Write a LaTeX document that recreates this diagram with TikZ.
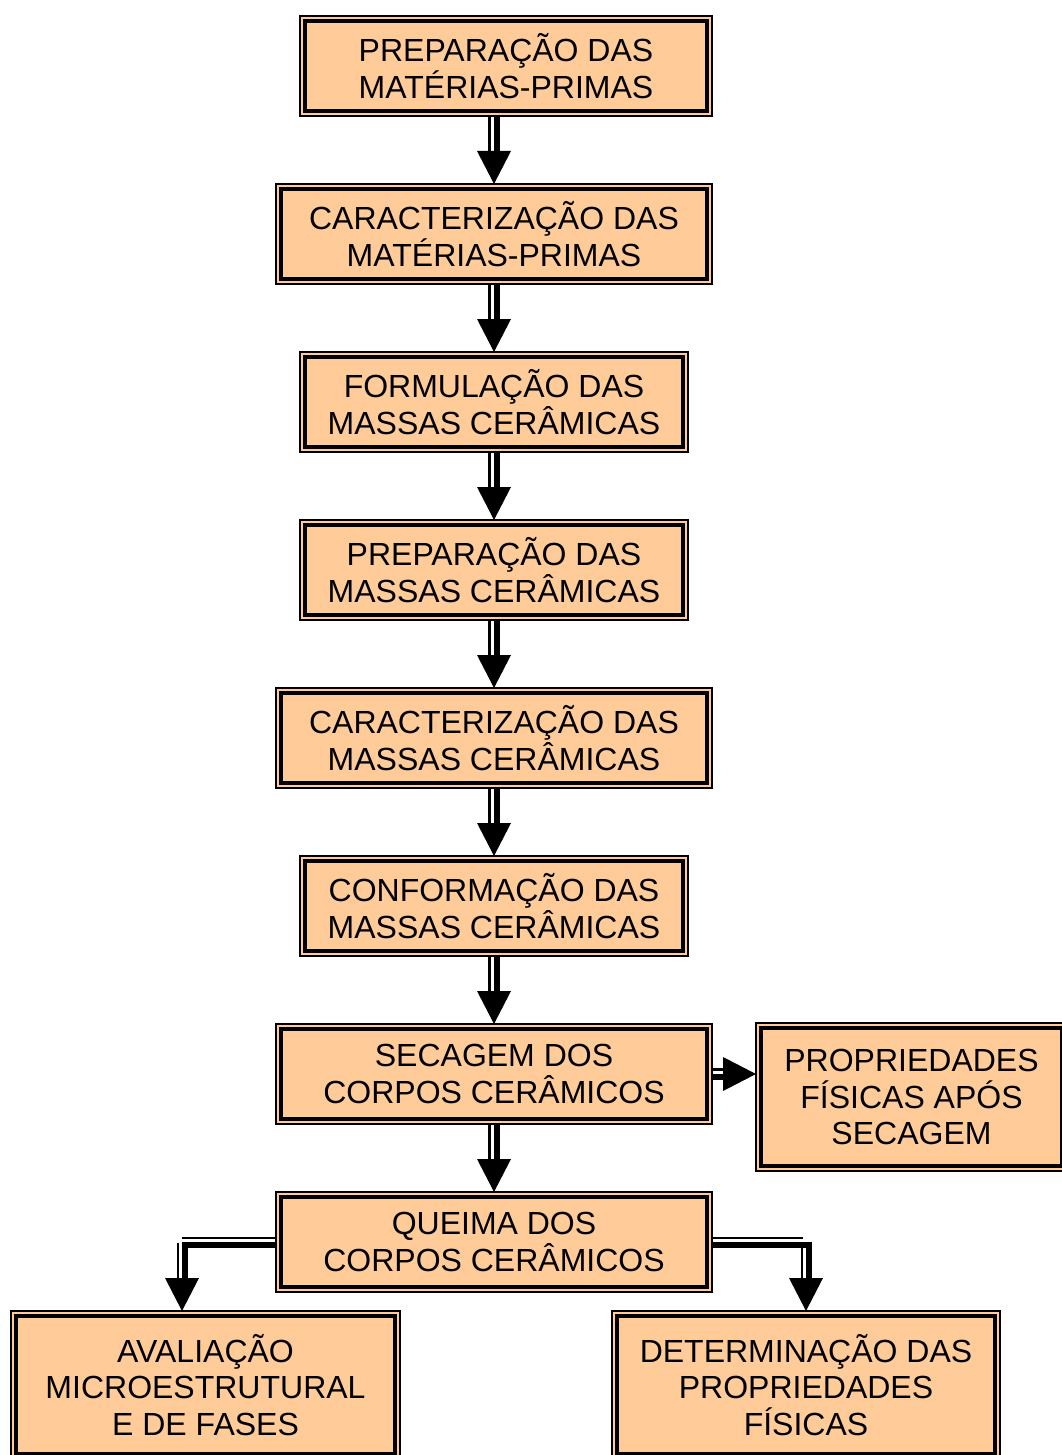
\documentclass[tikz,border=0pt]{standalone}
\usepackage{fontspec}
\setmainfont{Liberation Sans}
\usetikzlibrary{calc}
\definecolor{peach}{HTML}{FFCC99}
\tikzset{
  stage/.style={draw=black, line width=1.5pt, fill=peach, align=center,
    inner sep=0pt, outer sep=0pt, font=\fontsize{24}{27.4}\selectfont},
  size/.style 2 args={minimum width=#1*0.75pt, minimum height=#2*0.75pt},
  innerframe/.style={draw=black, line width=2.4pt},
  thinshaft/.style={draw=black, line width=1.9pt},
  thickshaft/.style={draw=black, line width=4.5pt, line join=miter},
  headdown/.pic={\fill[black] (-17,-33) -- (0,0) -- (17,-33) -- cycle;},
  headright/.pic={\fill[black] (-33,-17) -- (0,0) -- (-33,17) -- cycle;}
}
\begin{document}
\begin{tikzpicture}[x=0.75pt, y=-0.75pt]
\useasboundingbox (0,0) rectangle (1062,1455);
\clip (0,0) rectangle (1062,1455);

% process stages
\node[stage, size={412}{100}] (prep)   at (506,66)   {PREPARAÇÃO DAS\\MATÉRIAS-PRIMAS};
\node[stage, size={436}{100}] (carmp)  at (494,234)  {CARACTERIZAÇÃO DAS\\MATÉRIAS-PRIMAS};
\node[stage, size={388}{100}] (form)   at (494,402)  {FORMULAÇÃO DAS\\MASSAS CERÂMICAS};
\node[stage, size={388}{100}] (prepm)  at (494,570)  {PREPARAÇÃO DAS\\MASSAS CERÂMICAS};
\node[stage, size={436}{100}] (carm)   at (494,738)  {CARACTERIZAÇÃO DAS\\MASSAS CERÂMICAS};
\node[stage, size={388}{100}] (conf)   at (494,906)  {CONFORMAÇÃO DAS\\MASSAS CERÂMICAS};
\node[stage, size={436}{100}] (sec)    at (494,1074) {SECAGEM DOS\\CORPOS CERÂMICOS};
\node[stage, size={311}{148}] (propsec) at (911.5,1097) {PROPRIEDADES\\FÍSICAS APÓS\\SECAGEM};
\node[stage, size={436}{100}] (queima) at (494,1242) {QUEIMA DOS\\CORPOS CERÂMICOS};
\node[stage, size={389}{148}] (aval)   at (205.5,1385) {AVALIAÇÃO\\MICROESTRUTURAL\\E DE FASES};
\node[stage, size={388}{148}] (det)    at (806,1385) {DETERMINAÇÃO DAS\\PROPRIEDADES\\FÍSICAS};

% inner frame of each double border
\foreach \n in {prep,carmp,form,prepm,carm,conf,sec,propsec,queima,aval,det}
  \draw[innerframe] ($(\n.north west)+(5,5)$) rectangle ($(\n.south east)+(-5,-5)$);

% vertical connectors between consecutive stages
\foreach \a/\b in {prep/carmp,carmp/form,form/prepm,prepm/carm,carm/conf,conf/sec,sec/queima} {
  \draw[thinshaft]  ($(\a.south -| \b.north)+(-4.5,0)$) -- ($(\b.north)+(-4.5,-33)$);
  \draw[thickshaft] ($(\a.south -| \b.north)+(2.5,0)$)  -- ($(\b.north)+(2.5,-33)$);
  \pic at (\b.north) {headdown};
}

% drying -> physical properties after drying
\coordinate (tipS) at (propsec.west |- sec.east);
\draw[thinshaft]  ($(sec.east)+(0,-4.5)$) -- ($(tipS)+(-33,-4.5)$);
\draw[thickshaft] ($(sec.east)+(0,2.5)$)  -- ($(tipS)+(-33,2.5)$);
\pic at (tipS) {headright};

% firing -> microstructural evaluation
\coordinate (qL) at (182,1242);
\draw[thickshaft] ($(queima.west)+(0,3)$) -- ($(qL)+(3,3)$) -- ($(qL |- aval.north)+(3,-33)$);
\draw[thinshaft]  ($(queima.west)+(0,-4)$) -- ($(qL)+(0,-4)$);
\draw[thinshaft]  ($(qL)+(-4,1)$) -- ($(qL |- aval.north)+(-4,-33)$);
\pic at (qL |- aval.north) {headdown};

% firing -> physical properties
\coordinate (qR) at (det.north |- queima.east);
\draw[thickshaft] ($(queima.east)+(0,3)$) -- ($(qR)+(3,3)$) -- ($(qR |- det.north)+(3,-33)$);
\draw[thinshaft]  ($(queima.east)+(0,-4)$) -- ($(qR)+(-3,-4)$);
\draw[thinshaft]  ($(qR)+(-4,1)$) -- ($(qR |- det.north)+(-4,-33)$);
\pic at (det.north) {headdown};
\end{tikzpicture}
\end{document}
